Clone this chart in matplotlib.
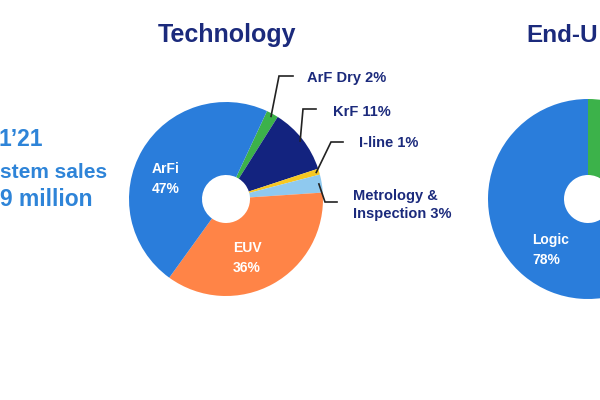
import numpy as np
import matplotlib
matplotlib.use("Agg")
import matplotlib.pyplot as plt

plt.rcParams['font.family'] = ['Liberation Sans', 'DejaVu Sans']
plt.rcParams['font.weight'] = 'bold'

# --- data ---
tech_labels = ['ArF Dry', 'KrF', 'I-line', 'Metrology &\nInspection', 'EUV', 'ArFi']
tech_share = [2, 11, 1, 3, 36, 47]
tech_colors = ['#3cb24a', '#13237f', '#f6c823', '#8fc9ef', '#ff8447', '#2a7ddb']

enduse_labels = ['Memory', 'Logic']
enduse_share = [22, 78]
enduse_colors = ['#3cb24a', '#2a7ddb']

left_lines = ['1\u201921', 'stem sales', '9 million']

NAVY = '#1b2a7c'
BLUE = '#2e84d8'
W, H = 600, 400


def py(y):
    # pixel row (top=0) -> data y
    return H - y


fig = plt.figure(figsize=(6, 4), dpi=100)
ax = fig.add_axes([0, 0, 1, 1])

# technology donut
tc = (226, py(199))
tr = 97
wedges, _ = ax.pie(tech_share, colors=tech_colors, startangle=65, counterclock=False,
                   center=tc, radius=tr,
                   wedgeprops=dict(width=tr - 24, linewidth=0))

# end-use donut (cut by the right edge)
ec = (588, py(199))
er = 100
ax.pie(enduse_share, colors=enduse_colors, startangle=90, counterclock=False,
       center=ec, radius=er, wedgeprops=dict(width=er - 24, linewidth=0))

ax.set_xlim(0, W)
ax.set_ylim(0, H)
ax.set_aspect('equal')
ax.axis('off')

# titles
ax.text(227, py(35), 'Technology', color=NAVY, fontsize=18, ha='center', va='center')
ax.text(598, py(35), 'End-U', color=NAVY, fontsize=17.5, ha='right', va='center')

# left summary text (cut at the left edge)
ax.text(43, py(139), left_lines[0], color=BLUE, fontsize=16.5, ha='right', va='center')
ax.text(107, py(172), left_lines[1], color=BLUE, fontsize=15, ha='right', va='center')
ax.text(93, py(199), left_lines[2], color=BLUE, fontsize=16.5, ha='right', va='center')

# labels inside the donuts
ax.text(152, py(179), 'ArFi\n47%', color='white', fontsize=10, ha='left', va='center',
        linespacing=1.6)
ax.text(233, py(258), 'EUV\n36%', color='white', fontsize=10, ha='left', va='center',
        linespacing=1.6)
ax.text(532, py(250), 'Logic\n78%', color='white', fontsize=10, ha='left', va='center',
        linespacing=1.6)

# callouts for the small technology slices
elbows = {'ArF Dry': (279, 76, 293), 'KrF': (303, 109, 316),
          'I-line': (331, 142, 343), 'Metrology &\nInspection': (325, 202, 337)}
text_pos = {'ArF Dry': (307, 78), 'KrF': (333, 112),
            'I-line': (359, 143), 'Metrology &\nInspection': (353, 205)}

for w, lab, val in zip(wedges, tech_labels, tech_share):
    if lab not in elbows:
        continue
    mid = np.deg2rad((w.theta1 + w.theta2) / 2)
    x0 = tc[0] + tr * 0.97 * np.cos(mid)
    y0 = tc[1] + tr * 0.97 * np.sin(mid)
    ex, ey, hx = elbows[lab]
    ax.plot([x0, ex, hx], [y0, py(ey), py(ey)], color='#222222', lw=1.2,
            solid_joinstyle='miter')
    tx, ty = text_pos[lab]
    ax.text(tx, py(ty), '{} {}%'.format(lab, val), color=NAVY, fontsize=10.5,
            ha='left', va='center', linespacing=1.35)

fig.savefig('out.png', dpi=100, facecolor='white')
